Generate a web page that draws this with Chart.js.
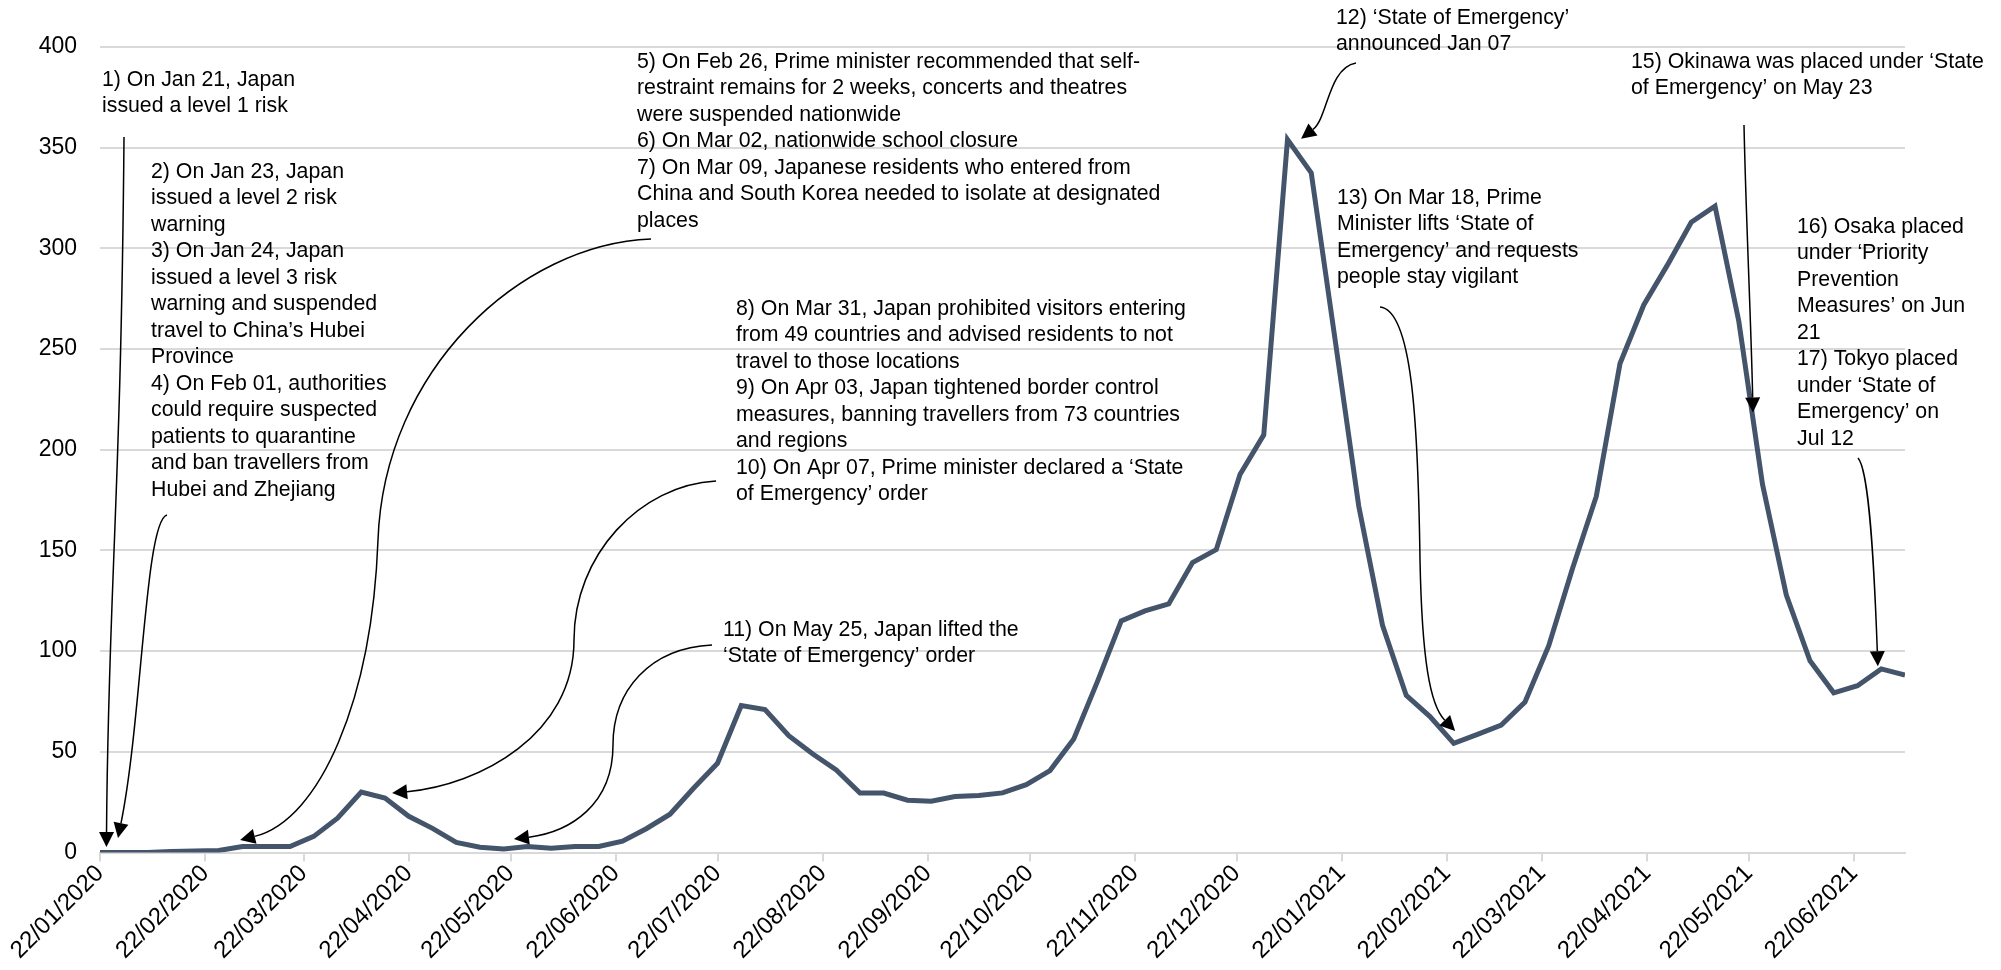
<!DOCTYPE html>
<html lang="en">
<head>
<meta charset="UTF-8">
<title>Japan timeline</title>
<script src="https://cdn.jsdelivr.net/npm/chart.js@4.4.0/dist/chart.umd.min.js"></script>
<style>
  html, body { margin: 0; padding: 0; background: #fff; }
</style>
</head>
<body>
<canvas id="timeline" width="2001" height="970"></canvas>
<script>
// weekly values, first week starts 22/01/2020
var startDate = '2020-01-22';
var values = [0, 0, 0, 0.5, 0.7, 1, 3, 3, 3, 8, 17, 30, 27, 18, 12, 5, 2.6, 1.8, 3, 2.1,
  3, 3, 5.6, 11.8, 19, 32, 44.3, 73, 71, 58, 49, 41, 29.5, 29.5, 26, 25.5, 27.8, 28.3, 29.6, 33.7,
  40.7, 56.4, 85, 115, 120, 123.4, 144, 150.4, 187.7, 207.4, 354, 337.5, 255, 172, 112.8, 78, 67.5, 54.2, 58.7, 63.3,
  74.7, 102.7, 141, 176.8, 242.8, 271.9, 291.8, 313, 321, 264, 182.8, 128, 95.2, 79.3, 82.8, 91.2, 88.1];
var tickLabels = ['22/01/2020', '22/02/2020', '22/03/2020', '22/04/2020', '22/05/2020', '22/06/2020',
  '22/07/2020', '22/08/2020', '22/09/2020', '22/10/2020', '22/11/2020', '22/12/2020',
  '22/01/2021', '22/02/2021', '22/03/2021', '22/04/2021', '22/05/2021', '22/06/2021'];

var DAY = 86400000;
var t0 = Date.parse(startDate + 'T00:00:00Z');
function dayOf(label) {
  var p = label.split('/');
  return (Date.UTC(+p[2], +p[1] - 1, +p[0]) - t0) / DAY;
}
var tickDays = tickLabels.map(dayOf);
var points = values.map(function (v, i) { return { x: i * 7, y: v }; });

var notes = [
  { x: 102, y: 80, lines: ['1) On Jan 21, Japan', 'issued a level 1 risk'] },
  { x: 151, y: 172, lines: ['2) On Jan 23, Japan', 'issued a level 2 risk', 'warning', '3) On Jan 24, Japan',
    'issued a level 3 risk', 'warning and suspended', 'travel to China\u2019s Hubei', 'Province',
    '4) On Feb 01, authorities', 'could require suspected', 'patients to quarantine',
    'and ban travellers from', 'Hubei and Zhejiang'] },
  { x: 637, y: 62, lines: ['5) On Feb 26, Prime minister recommended that self-',
    'restraint remains for 2 weeks, concerts and theatres', 'were suspended nationwide',
    '6) On Mar 02, nationwide school closure', '7) On Mar 09, Japanese residents who entered from',
    'China and South Korea needed to isolate at designated', 'places'] },
  { x: 736, y: 309, lines: ['8) On Mar 31, Japan prohibited visitors entering',
    'from 49 countries and advised residents to not', 'travel to those locations',
    '9) On Apr 03, Japan tightened border control', 'measures, banning travellers from 73 countries',
    'and regions'] },
  { x: 736, y: 468, lines: ['10) On Apr 07, Prime minister declared a \u2018State', 'of Emergency\u2019 order'] },
  { x: 723, y: 630, lines: ['11) On May 25, Japan lifted the', '\u2018State of Emergency\u2019 order'] },
  { x: 1336, y: 18, lines: ['12) \u2018State of Emergency\u2019', 'announced Jan 07'] },
  { x: 1337, y: 198, lines: ['13) On Mar 18, Prime', 'Minister lifts \u2018State of',
    'Emergency\u2019 and requests', 'people stay vigilant'] },
  { x: 1631, y: 62, lines: ['15) Okinawa was placed under \u2018State', 'of Emergency\u2019 on May 23'] },
  { x: 1797, y: 227, lines: ['16) Osaka placed', 'under \u2018Priority', 'Prevention', 'Measures\u2019 on Jun',
    '21', '17) Tokyo placed', 'under \u2018State of', 'Emergency\u2019 on', 'Jul 12'] }
];

// connectors: tail in pixels, curve control points in pixels, tip in data units (day, value)
var arrows = [
  { from: [124, 137], segs: [], last: [121, 500, 108, 600], tip: [1.9, 2.7] },
  { from: [167, 515], segs: [], last: [145, 520, 142, 720], tip: [5.3, 7.2] },
  { from: [651, 239], segs: [[520, 244, 384, 370, 378, 540]], last: [372, 700, 320, 820], tip: [41.3, 6.2] },
  { from: [716, 481], segs: [[640, 485, 574, 555, 574, 640]], last: [574, 735, 480, 785], tip: [86.1, 29.5] },
  { from: [712, 645], segs: [[650, 648, 613, 690, 613, 745]], last: [613, 805, 570, 832], tip: [122, 6.7] },
  { from: [1356, 63], segs: [], last: [1328, 68, 1328, 118], tip: [354, 354.5] },
  { from: [1380, 307], segs: [[1412, 310, 1418, 420, 1420, 560]], last: [1422, 660, 1430, 705], tip: [399.4, 60.3] },
  { from: [1744, 125], segs: [], last: [1746, 220, 1751, 320], tip: [487.2, 218.5] },
  { from: [1858, 458], segs: [], last: [1869, 470, 1874, 560], tip: [524, 92.5] }
];

var FONT = '"Liberation Sans", Arial, sans-serif';

var notesPlugin = {
  id: 'notes',
  afterDraw: function (chart) {
    var c = chart.ctx, xs = chart.scales.x, ys = chart.scales.y;
    c.save();
    c.fillStyle = '#000';
    c.font = '21.3px ' + FONT;
    c.textBaseline = 'middle';
    c.textAlign = 'left';
    notes.forEach(function (n) {
      n.lines.forEach(function (t, i) { c.fillText(t, n.x, n.y + i * 26.5); });
    });

    c.strokeStyle = '#000';
    c.lineWidth = 1.5;
    arrows.forEach(function (a) {
      var tx = xs.getPixelForValue(a.tip[0]);
      var ty = ys.getPixelForValue(a.tip[1]);
      var dx = tx - a.last[2], dy = ty - a.last[3];
      var len = Math.sqrt(dx * dx + dy * dy);
      dx /= len; dy /= len;
      var head = 15, half = 7.5;
      var bx = tx - dx * head, by = ty - dy * head;
      c.beginPath();
      c.moveTo(a.from[0], a.from[1]);
      a.segs.forEach(function (s) { c.bezierCurveTo(s[0], s[1], s[2], s[3], s[4], s[5]); });
      c.bezierCurveTo(a.last[0], a.last[1], a.last[2], a.last[3], bx, by);
      c.stroke();
      c.beginPath();
      c.moveTo(tx, ty);
      c.lineTo(bx - dy * half, by + dx * half);
      c.lineTo(bx + dy * half, by - dx * half);
      c.closePath();
      c.fill();
    });
    c.restore();
  }
};

var ctx = document.getElementById('timeline').getContext('2d');
var chart = new Chart(ctx, {
  type: 'line',
  data: {
    datasets: [{
      data: points,
      borderColor: '#44546a',
      borderWidth: 5,
      pointRadius: 0,
      tension: 0,
      fill: false
    }]
  },
  options: {
    responsive: false,
    animation: false,
    devicePixelRatio: 1,
    layout: { padding: { top: 47, right: 96, left: 0, bottom: 0 } },
    plugins: { legend: { display: false }, tooltip: { enabled: false } },
    scales: {
      x: {
        type: 'linear',
        min: 0,
        max: 532,
        afterBuildTicks: function (s) { s.ticks = tickDays.map(function (d) { return { value: d }; }); },
        afterFit: function (s) { s.height = 117.5; },
        ticks: {
          autoSkip: false,
          minRotation: 45,
          maxRotation: 45,
          padding: -2,
          color: '#000',
          font: { family: FONT, size: 24 },
          callback: function (v, i) { return tickLabels[i]; }
        },
        grid: { drawOnChartArea: false, drawTicks: true, tickLength: 9, color: '#d9d9d9', lineWidth: 2 },
        border: { display: true, color: '#d9d9d9', width: 2 }
      },
      y: {
        min: 0,
        max: 400,
        afterFit: function (s) { s.width = 100; },
        ticks: { stepSize: 50, padding: 23, color: '#000', font: { family: FONT, size: 23 } },
        grid: { color: '#d9d9d9', lineWidth: 2, drawTicks: false },
        border: { display: false }
      }
    }
  },
  plugins: [notesPlugin]
});
</script>
</body>
</html>
